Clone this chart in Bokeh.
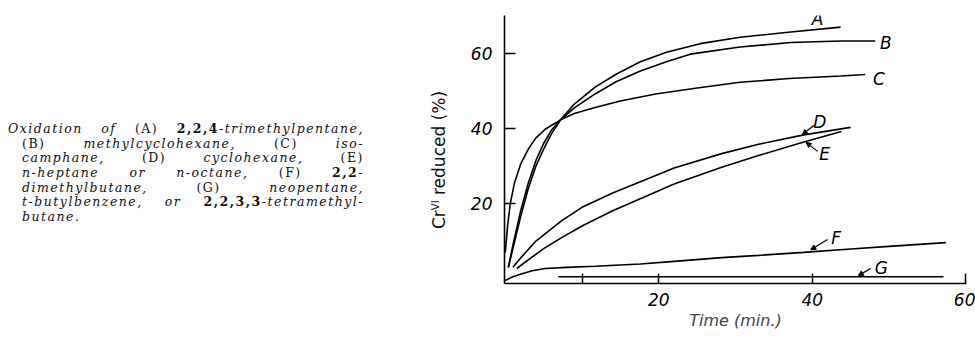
from bokeh.plotting import figure
from bokeh.models import Div, Label, Arrow, NormalHead, FixedTicker
from bokeh.layouts import row
from bokeh.embed import file_html
from bokeh.resources import INLINE

# ---- data (time in min, Cr(VI) reduced in %) ----
A_t = [0.4, 1, 2, 3, 4, 5, 6, 7.2, 9, 11.7, 14.5, 17.6, 21, 25.4, 30.6, 37.2, 43.7]
A_y = [3, 9, 18, 25.5, 31.5, 36, 39.5, 42.3, 46.5, 51, 54.5, 57.8, 60.3, 62.6, 64.3, 65.7, 67]

B_t = [0.4, 1, 2, 3, 4, 5, 6, 7.2, 9, 11.7, 14.5, 17.6, 21, 24.1, 30.6, 37.2, 43.7, 48.2]
B_y = [3, 8, 16.5, 24, 30, 34.5, 38.5, 42.3, 45.5, 49.2, 52.5, 55.3, 57.8, 59.8, 61.7, 62.9, 63.3, 63.3]

C_t = [0, 0.3, 0.65, 1.2, 2, 3, 4, 5.2, 7.2, 9, 11.7, 15, 19.6, 25, 30.6, 37, 43.7, 46.9]
C_y = [7, 14, 20, 25.5, 30.5, 34.5, 37.5, 39.8, 42.3, 44, 45.6, 47.3, 49.2, 50.8, 52.3, 53.3, 54, 54.4]

D_t = [1, 2, 4, 7.4, 10, 14, 17.6, 22, 28.2, 33, 38.9, 45]
D_y = [3, 5.5, 10, 15.5, 19, 22.8, 25.8, 29.5, 33.3, 35.8, 38.3, 40.3]

E_t = [1.5, 3, 5, 7.4, 10, 14, 17.6, 22, 28.2, 33, 38.9, 43.8]
E_y = [2.7, 5, 8, 11, 14, 18.1, 21.3, 25.2, 29.7, 32.8, 36.4, 39.2]

F_t = [0, 1, 2.2, 3.5, 5.2, 8, 11.7, 17.6, 22, 28.2, 33, 38.9, 45, 50, 57.4]
F_y = [-0.5, 0.5, 1.3, 2.1, 2.7, 3, 3.3, 3.9, 4.6, 5.6, 6.2, 7, 7.9, 8.6, 9.6]

G_t = [6.9, 57.1]
G_y = [0.5, 0.5]

series_names = ["A", "B", "C", "D", "E", "F", "G"]
label_x = [40.7, 49.6, 48.7, 41.0, 41.6, 43.1, 49.0]
label_y = [69.3, 62.9, 53.3, 41.6, 33.3, 10.7, 2.7]

# arrows: tail -> head, for D, E, F, G
arrow_names = ["D", "E", "F", "G"]
arrow_tx = [40.2, 40.7, 42.0, 47.6]
arrow_ty = [40.8, 33.9, 10.4, 2.7]
arrow_hx = [38.7, 39.2, 39.8, 46.0]
arrow_hy = [38.4, 36.3, 7.7, 0.8]

x_ticks = [10, 20, 40, 60]
x_tick_labels = {10: "", 20: "20", 40: "40", 60: "60"}
y_ticks = [20, 40, 60]
x_title = "Time (min.)"
y_title_html = "Cr<sup style='font-size:10px;vertical-align:6px'>VI</sup> reduced (%)"

caption_lines = [
    'Oxidation of <u>(A)</u> <b>2,2,4</b>-trimethylpentane,',
    '<u>(B)</u> methylcyclohexane, <u>(C)</u> iso-',
    'camphane, <u>(D)</u> cyclohexane, <u>(E)</u>',
    'n-heptane or n-octane, <u>(F)</u> <b>2,2</b>-',
    'dimethylbutane, <u>(G)</u> neopentane,',
    't-butylbenzene, or <b>2,2,3,3</b>-tetramethyl-',
    'butane.',
]

# ---- caption and y title as HTML ----
def fmt(s):
    s = s.replace('<u>', '<span style="font-style:normal">').replace('</u>', '</span>')
    s = s.replace('<b>', '<span style="font-style:normal;font-weight:bold">').replace('</b>', '</span>')
    return s

parts = []
for i, ln in enumerate(caption_lines):
    indent = 0 if i == 0 else 14
    last = "left" if i == len(caption_lines) - 1 else "justify"
    parts.append(
        f'<div style="padding-left:{indent}px;text-align:justify;text-align-last:{last};'
        f'height:14.7px;line-height:14.7px;">{fmt(ln)}</div>'
    )
caption_html = (
    '<div style="position:absolute;left:8px;top:122px;width:356px;'
    'font-family:\'DejaVu Serif\';font-style:italic;font-size:12.5px;letter-spacing:1.5px;color:#111;">'
    + "".join(parts) + '</div>'
)
ytitle_html = (
    '<div style="position:absolute;left:437px;top:160px;white-space:nowrap;'
    'transform:translate(-50%,-50%) rotate(-90deg);'
    'font-family:\'DejaVu Sans\';font-size:17px;color:#111;line-height:20px;">'
    + y_title_html + '</div>'
)
div = Div(text='<div style="position:relative;width:450px;height:337px;">'
          + caption_html + ytitle_html + '</div>',
          width=450, height=337, margin=(0, 0, 0, 0))

# ---- plot ----
p = figure(width=525, height=337, x_range=(-0.1, 60.1), y_range=(-1.3, 70.1),
           output_backend="svg", toolbar_location=None,
           min_border_left=54, min_border_right=9, min_border_top=15, min_border_bottom=54,
           margin=(0, 0, 0, 0))
p.outline_line_color = None
p.grid.visible = False
p.background_fill_color = "white"
p.border_fill_color = "white"

for t, y in [(A_t, A_y), (B_t, B_y), (C_t, C_y), (D_t, D_y), (E_t, E_y), (F_t, F_y), (G_t, G_y)]:
    p.line(t, y, line_color="black", line_width=1.6)

for name, lx, ly in zip(series_names, label_x, label_y):
    p.add_layout(Label(x=lx, y=ly, text=name, text_font="DejaVu Sans", text_font_style="italic",
                       text_font_size="17px", text_color="black", text_align="center",
                       text_baseline="middle"))

for tx, ty, hx, hy in zip(arrow_tx, arrow_ty, arrow_hx, arrow_hy):
    p.add_layout(Arrow(x_start=tx, y_start=ty, x_end=hx, y_end=hy, line_width=1.2,
                       line_color="black",
                       end=NormalHead(size=5, fill_color="black", line_color="black")))

# axes
xa = p.xaxis[0]
xa.ticker = FixedTicker(ticks=x_ticks)
xa.major_label_overrides = x_tick_labels
xa.minor_tick_line_color = None
xa.major_tick_in = 10
xa.major_tick_out = 0
xa.major_tick_line_width = 1.5
xa.axis_line_width = 1.6
xa.major_label_standoff = 9
xa.major_label_text_font = "DejaVu Sans"
xa.major_label_text_font_style = "italic"
xa.major_label_text_font_size = "17px"
xa.major_label_text_color = "black"
xa.axis_label = x_title
xa.axis_label_text_font = "DejaVu Sans"
xa.axis_label_text_font_style = "italic"
xa.axis_label_text_font_size = "16px"
xa.axis_label_standoff = 2

ya = p.yaxis[0]
ya.ticker = FixedTicker(ticks=y_ticks)
ya.minor_tick_line_color = None
ya.major_tick_in = 11
ya.major_tick_out = 0
ya.major_tick_line_width = 1.5
ya.axis_line_width = 1.6
ya.major_label_standoff = 12
ya.major_label_text_font = "DejaVu Sans"
ya.major_label_text_font_style = "italic"
ya.major_label_text_font_size = "17px"
ya.major_label_text_color = "black"
ya.major_label_orientation = "horizontal"

layout = row(div, p)
open("out.html", "w").write(file_html(layout, INLINE))
